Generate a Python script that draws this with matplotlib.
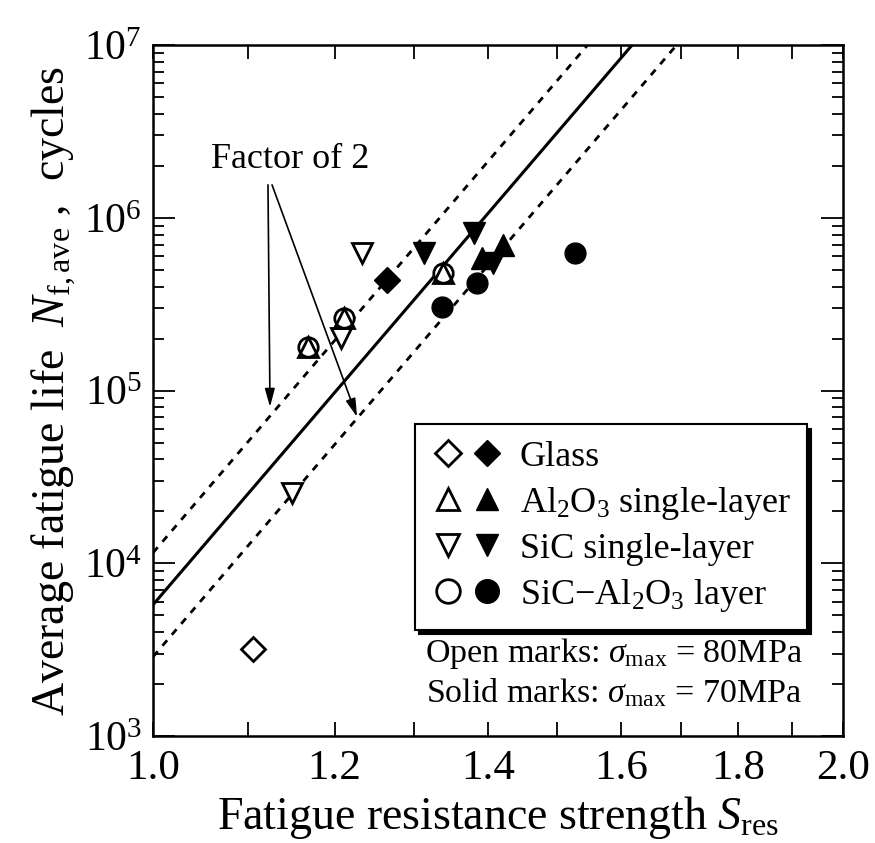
import matplotlib
matplotlib.use("Agg")
import matplotlib.pyplot as plt
import numpy as np
from matplotlib.lines import Line2D
from matplotlib.legend_handler import HandlerTuple
from matplotlib.ticker import FixedLocator, FuncFormatter, NullFormatter, LogLocator

plt.rcParams['font.family'] = ['Liberation Serif', 'DejaVu Serif']
plt.rcParams['mathtext.fontset'] = 'custom'
plt.rcParams['mathtext.rm'] = 'Liberation Serif'
plt.rcParams['mathtext.it'] = 'Liberation Serif:italic'
plt.rcParams['mathtext.bf'] = 'Liberation Serif:bold'

# ---- data ----
glass_open_S = [1.106]
glass_open_N = [3190]
glass_solid_S = [1.265]
glass_solid_N = [4.36e5]
al2o3_open_S = [1.169, 1.212, 1.338]
al2o3_open_N = [1.79e5, 2.63e5, 4.79e5]
al2o3_solid_S = [1.392, 1.421]
al2o3_solid_N = [5.85e5, 6.95e5]
sic_open_S = [1.150, 1.208, 1.234]
sic_open_N = [2.55e4, 2.01e5, 6.25e5]
sic_solid_S = [1.313, 1.381, 1.407]
sic_solid_N = [6.25e5, 8.16e5, 5.47e5]
layer_open_S = [1.169, 1.212, 1.338]
layer_open_N = [1.79e5, 2.63e5, 4.79e5]
layer_solid_S = [1.337, 1.385, 1.528]
layer_solid_N = [3.04e5, 4.19e5, 6.25e5]

fit_logN0 = 3.76      # log10 N at S = 1
fit_slope = 15.5      # exponent
factor = 2.0

x_ticks = [1.0, 1.1, 1.2, 1.3, 1.4, 1.5, 1.6, 1.7, 1.8, 1.9, 2.0]
x_labels = {1.0: '1.0', 1.2: '1.2', 1.4: '1.4', 1.6: '1.6', 1.8: '1.8', 2.0: '2.0'}

fig = plt.figure(figsize=(8.75, 8.43), dpi=100)
ax = fig.add_axes([0.1749, 0.1269, 0.7885, 0.8197])
ax.set_xscale('log')
ax.set_yscale('log')
ax.set_xlim(1.0, 2.0)
ax.set_ylim(1e3, 1e7)

# fit lines
Sline = np.linspace(1.0, 2.0, 200)
Nfit = 10 ** (fit_logN0 + fit_slope * np.log10(Sline))
ax.plot(Sline, Nfit, color='k', lw=2.2, zorder=2)
ax.plot(Sline, Nfit * factor, color='k', lw=2.0, ls=(0, (2.6, 2.6)), zorder=2)
ax.plot(Sline, Nfit / factor, color='k', lw=2.0, ls=(0, (2.6, 2.6)), zorder=2)

ms = 14
mew = 2.0
ax.plot(sic_open_S, sic_open_N, 'v', ms=ms, mfc='white', mec='k', mew=mew, ls='none', zorder=3)
ax.plot(layer_open_S, layer_open_N, 'o', ms=ms, mfc='white', mec='k', mew=mew, ls='none', zorder=3)
ax.plot(al2o3_open_S, al2o3_open_N, '^', ms=ms, mfc='none', mec='k', mew=mew, ls='none', zorder=4)
ax.plot(glass_open_S, glass_open_N, 'D', ms=ms - 2, mfc='white', mec='k', mew=mew, ls='none', zorder=3)
ax.plot(glass_solid_S, glass_solid_N, 'D', ms=ms - 1, color='k', ls='none', zorder=3)
ax.plot(al2o3_solid_S, al2o3_solid_N, '^', ms=ms + 2, color='k', ls='none', zorder=3)
ax.plot(sic_solid_S, sic_solid_N, 'v', ms=ms + 2, color='k', ls='none', zorder=3)
ax.plot(layer_solid_S, layer_solid_N, 'o', ms=ms + 1, color='k', ls='none', zorder=3)

# axes styling
for sp in ax.spines.values():
    sp.set_linewidth(1.8)
ax.xaxis.set_major_locator(FixedLocator(x_ticks))
ax.xaxis.set_minor_locator(FixedLocator([]))
ax.xaxis.set_major_formatter(FuncFormatter(lambda v, p: x_labels.get(round(v, 1), '')))
ax.xaxis.set_minor_formatter(NullFormatter())
ax.yaxis.set_major_locator(LogLocator(base=10, numticks=10))
ax.yaxis.set_minor_locator(LogLocator(base=10, subs=np.arange(2, 10), numticks=10))
ax.yaxis.set_major_formatter(FuncFormatter(lambda v, p: r'$\mathregular{10^{%d}}$' % round(np.log10(v))))
ax.yaxis.set_minor_formatter(NullFormatter())
ax.tick_params(which='major', axis='x', direction='in', length=10, width=1.3, top=True, bottom=True,
               labelsize=31, pad=10)
ax.tick_params(which='major', axis='y', direction='in', length=16, width=1.3, left=True, right=True,
               labelsize=30, pad=8)
ax.tick_params(which='minor', axis='y', direction='in', length=8, width=1.3, left=True, right=True)

ax.set_xlabel(r'Fatigue resistance strength $S_{\mathrm{res}}$', fontsize=33, labelpad=4)
ax.set_ylabel(r'Average fatigue life  $N_{\mathrm{f,ave}}$ ,  cycles', fontsize=33, labelpad=4)

# annotations
ax.text(0.199, 0.834, 'Factor of 2', transform=ax.transAxes, fontsize=26, ha='center', va='center')
arrow_kw = dict(arrowstyle='-|>,head_length=1.1,head_width=0.3', color='k', lw=1.2, shrinkA=0, shrinkB=0)
ax.annotate('', xy=(1.1247, 8.03e4), xytext=(1.1224, 1.55e6), arrowprops=arrow_kw)
ax.annotate('', xy=(1.2275, 7.03e4), xytext=(1.127, 1.55e6), arrowprops=arrow_kw)

# legend
def h(marker, filled, size):
    if filled:
        return Line2D([], [], marker=marker, ls='none', ms=size, color='k')
    return Line2D([], [], marker=marker, ls='none', ms=size, mfc='white', mec='k', mew=2.0)

handles = [(h('D', False, 13), h('D', True, 13)),
           (h('^', False, 16), h('^', True, 16)),
           (h('v', False, 16), h('v', True, 16)),
           (h('o', False, 17), h('o', True, 17))]
labels = ['Glass', r'Al$_2$O$_3$ single-layer', 'SiC single-layer', r'SiC$-$Al$_2$O$_3$ layer']
leg = ax.legend(handles, labels, handler_map={tuple: HandlerTuple(ndivide=None, pad=0.15)},
                loc='upper left', bbox_to_anchor=(0.380, 0.451), borderaxespad=0,
                fontsize=26, frameon=True, fancybox=False, edgecolor='k',
                shadow={'color': 'k', 'alpha': 1.0, 'ox': 3, 'oy': -3},
                handlelength=2.0, handletextpad=0.45, labelspacing=0.3, borderpad=0.45)
leg.get_frame().set_linewidth(1.5)
leg.set_zorder(5)

ax.text(0.668, 0.120, r'Open marks: $\sigma_{\mathrm{max}}$ = 80MPa', transform=ax.transAxes,
        fontsize=24.5, ha='center', va='center')
ax.text(0.668, 0.062, r'Solid marks: $\sigma_{\mathrm{max}}$ = 70MPa', transform=ax.transAxes,
        fontsize=24.5, ha='center', va='center')

fig.savefig('out.png', dpi=100)
